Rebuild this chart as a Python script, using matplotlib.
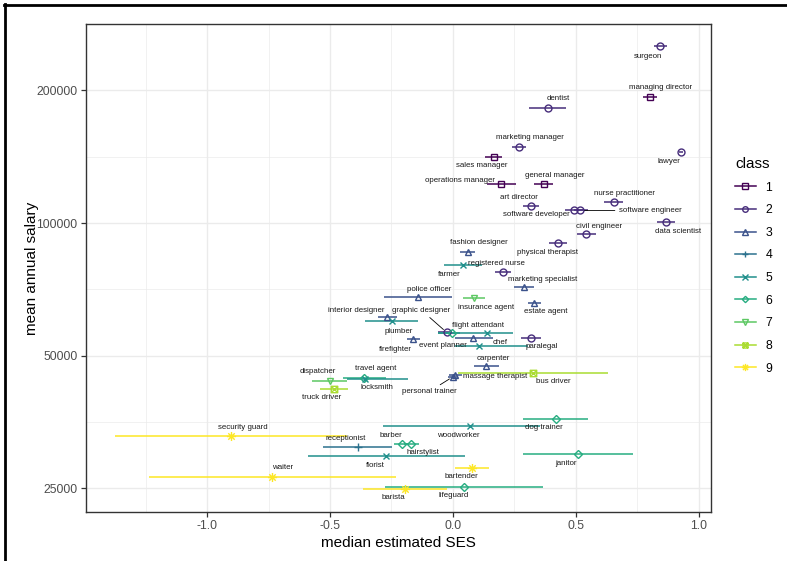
import matplotlib
matplotlib.use("Agg")
import matplotlib.pyplot as plt
from matplotlib.path import Path
from matplotlib.lines import Line2D

plt.rcParams['font.family'] = ['Liberation Sans', 'DejaVu Sans']

# occupation data
jobs = ["surgeon", "managing director", "dentist", "marketing manager", "lawyer",
        "sales manager", "operations manager", "general manager", "art director",
        "nurse practitioner", "software developer", "software engineer", "data scientist",
        "civil engineer", "physical therapist", "fashion designer", "registered nurse",
        "farmer", "marketing specialist", "police officer", "insurance agent",
        "estate agent", "interior designer", "plumber", "graphic designer", "",
        "flight attendant", "firefighter", "event planner", "chef", "paralegal",
        "carpenter", "bus driver", "massage therapist", "personal trainer",
        "dispatcher", "travel agent", "locksmith", "truck driver", "security guard",
        "receptionist", "barber", "hairstylist", "woodworker", "dog trainer",
        "florist", "janitor", "waiter", "bartender", "barista", "lifeguard"]
job_class = [2, 1, 2, 2, 2, 1, 1, 1, 2, 2, 2, 2, 2, 2, 2, 3, 2, 5, 3, 3, 7, 3, 3, 5, 2, 6,
             5, 3, 5, 3, 2, 3, 8, 3, 3, 7, 6, 5, 8, 9, 4, 6, 6, 5, 6, 5, 6, 9, 9, 9, 6]
ses = [0.841, 0.801, 0.385, 0.267, 0.927, 0.165, 0.196, 0.369, 0.317, 0.653, 0.492,
       0.518, 0.866, 0.539, 0.427, 0.060, 0.202, 0.042, 0.289, -0.141, 0.085, 0.331,
       -0.270, -0.249, -0.026, -0.003, 0.139, -0.161, 0.107, 0.083, 0.317, 0.134,
       0.327, 0.010, 0.000, -0.500, -0.361, -0.357, -0.484, -0.904, -0.388, -0.209,
       -0.172, 0.069, 0.417, -0.272, 0.507, -0.734, 0.079, -0.195, 0.046]
ses_lo = [0.817, 0.774, 0.309, 0.239, 0.920, 0.130, 0.137, 0.330, 0.286, 0.614, 0.455,
          0.490, 0.830, 0.503, 0.390, 0.028, 0.171, -0.035, 0.249, -0.280, 0.042, 0.306,
          -0.304, -0.358, -0.061, -0.061, -0.060, -0.188, 0.008, 0.008, 0.276, 0.085,
          0.022, -0.015, -0.020, -0.573, -0.447, -0.431, -0.541, -1.376, -0.530, -0.240,
          -0.200, -0.283, 0.286, -0.588, 0.283, -1.234, 0.008, -0.365, -0.276]
ses_hi = [0.870, 0.831, 0.459, 0.297, 0.935, 0.200, 0.256, 0.408, 0.351, 0.692, 0.530,
          0.550, 0.904, 0.580, 0.465, 0.090, 0.235, 0.117, 0.329, -0.005, 0.130, 0.357,
          -0.226, -0.141, -0.004, 0.028, 0.245, -0.134, 0.305, 0.164, 0.358, 0.187,
          0.632, 0.035, 0.020, -0.432, -0.272, -0.183, -0.426, -0.432, -0.247, -0.180,
          -0.140, 0.354, 0.548, 0.049, 0.730, -0.232, 0.148, -0.023, 0.365]
salary = [252000, 193500, 182800, 148800, 145300, 141300, 122700, 122700, 109400,
          111700, 106800, 106800, 100400, 94300, 90000, 86000, 77500, 80200, 71500,
          68100, 67500, 66000, 61200, 59800, 56500, 56400, 56200, 54500, 52700, 54800,
          54900, 47300, 45700, 45100, 44800, 43700, 44600, 44200, 42100, 32800, 31000,
          31600, 31600, 34600, 36000, 29600, 29850, 26600, 27840, 24930, 25200]

# label placement (pixel offsets from the point), like ggrepel did it
label_offsets = {
    "surgeon": (-12, -10), "managing director": (11, 9), "dentist": (11, 9),
    "marketing manager": (11, 9), "lawyer": (-12, -10), "sales manager": (-12, -9),
    "operations manager": (-41, 3), "general manager": (11, 8), "art director": (-12, 8),
    "nurse practitioner": (11, 8), "software developer": (-38, -4),
    "software engineer": (70, 0), "data scientist": (12, -9), "civil engineer": (14, 8),
    "physical therapist": (-11, -9), "fashion designer": (11, 9),
    "registered nurse": (-6, 8), "farmer": (-14, -9), "marketing specialist": (19, 8),
    "police officer": (11, 7), "insurance agent": (12, -9), "estate agent": (11, -9),
    "interior designer": (-30, 7), "plumber": (7, -10), "graphic designer": (-25, 22),
    "flight attendant": (-9, 8), "firefighter": (-18, -10), "event planner": (-36, 0),
    "chef": (27, -4), "paralegal": (11, -9), "carpenter": (7, 8),
    "massage therapist": (40, -1), "bus driver": (20, -9), "personal trainer": (-24, -15),
    "dispatcher": (-12, 10), "travel agent": (11, 9), "locksmith": (12, -8),
    "truck driver": (-12, -9), "security guard": (12, 9), "receptionist": (-12, 9),
    "barber": (-11, 8), "hairstylist": (12, -9), "woodworker": (-12, -9),
    "dog trainer": (-12, -9), "florist": (-11, -9), "janitor": (-12, -9),
    "waiter": (10, 9), "bartender": (-11, -9), "barista": (-12, -9), "lifeguard": (-11, -9),
}
segment_jobs = {"software engineer", "graphic designer", "personal trainer"}

colors = ["#440154", "#472D7B", "#3B528B", "#2C728E", "#21908C",
          "#27AD81", "#5DC863", "#AADC32", "#FDE725"]

M, L, C = Path.MOVETO, Path.LINETO, Path.CLOSEPOLY
square_cross = Path([(-1, -1), (1, -1), (1, 1), (-1, 1), (-1, -1), (-1, -1), (1, 1), (-1, 1), (1, -1)],
                    [M, L, L, L, C, M, L, M, L])
asterisk = Path([(-1, 0), (1, 0), (0, -1), (0, 1), (-0.71, -0.71), (0.71, 0.71), (-0.71, 0.71), (0.71, -0.71)],
                [M, L, M, L, M, L, M, L])
markers = ["s", "o", "^", "+", "x", "D", "v", square_cross, asterisk]
msizes = [4.6, 5.0, 5.0, 6.0, 4.6, 4.0, 5.0, 4.6, 6.5]

fig = plt.figure(figsize=(7.87, 5.61), dpi=100)
ax = fig.add_axes([86 / 787, 49 / 561, 625 / 787, 488 / 561])

for j, c, x, lo, hi, y in zip(jobs, job_class, ses, ses_lo, ses_hi, salary):
    col = colors[c - 1]
    ax.plot([lo, hi], [y, y], color=col, lw=1.1, solid_capstyle="butt", zorder=2)
for j, c, x, y in zip(jobs, job_class, ses, salary):
    col = colors[c - 1]
    ax.plot(x, y, linestyle="none", marker=markers[c - 1], ms=msizes[c - 1],
            mfc="none", mec=col, mew=1.0, zorder=3)

for j, x, y in zip(jobs, ses, salary):
    if not j:
        continue
    dx, dy = label_offsets[j]
    arrow = None
    if j in segment_jobs:
        arrow = dict(arrowstyle="-", color="black", lw=0.6, shrinkA=1, shrinkB=3)
    ax.annotate(j, (x, y), xytext=(dx, dy), textcoords="offset pixels",
                ha="center", va="center", fontsize=5.7, color="#1A1A1A",
                arrowprops=arrow, zorder=4)

ax.set_yscale("log")
ax.set_xlim(-1.492, 1.049)
ax.set_ylim(22100, 282000)
ax.set_xticks([-1.0, -0.5, 0.0, 0.5, 1.0])
ax.set_xticklabels(["-1.0", "-0.5", "0.0", "0.5", "1.0"])
ax.set_xticks([-1.25, -0.75, -0.25, 0.25, 0.75], minor=True)
ax.set_yticks([25000, 50000, 100000, 200000])
ax.set_yticklabels(["25000", "50000", "100000", "200000"])
ax.set_yticks([35355, 70711, 141421, 282843], minor=True)
ax.set_yticklabels([], minor=True)
ax.tick_params(which="major", length=3.5, width=0.9, color="#333333",
               labelsize=8.8, labelcolor="#4D4D4D", pad=2.5)
ax.tick_params(which="minor", length=0)
ax.grid(which="major", color="#EBEBEB", lw=1.0, zorder=0)
ax.grid(which="minor", color="#EBEBEB", lw=0.5, zorder=0)
ax.set_axisbelow(True)
for s in ax.spines.values():
    s.set_color("#333333")
    s.set_linewidth(1.0)

ax.set_xlabel("median estimated SES", fontsize=11, labelpad=2.5)
ax.set_ylabel("mean annual salary", fontsize=11, labelpad=-2)

handles = [Line2D([0], [0], color=colors[i], lw=1.1, marker=markers[i], ms=msizes[i] * 0.8,
                  mfc="none", mec=colors[i], mew=1.0) for i in range(9)]
leg = fig.legend(handles, [str(i + 1) for i in range(9)], title="class",
                 loc="upper left", bbox_to_anchor=(730 / 787, 1 - 152 / 561),
                 frameon=False, fontsize=8.8, title_fontsize=11,
                 handlelength=1.7, handletextpad=0.8, labelspacing=0.87,
                 alignment="left", borderaxespad=0)

# black frame on the left and top of the picture
fig.add_artist(Line2D([4.7 / 787, 4.7 / 787], [0, 1 - 4 / 561], color="black", lw=2.0,
                      transform=fig.transFigure))
fig.add_artist(Line2D([3.5 / 787, 1], [1 - 5.3 / 561, 1 - 5.3 / 561], color="black", lw=2.0,
                      transform=fig.transFigure))

fig.savefig("out.png", dpi=100)
